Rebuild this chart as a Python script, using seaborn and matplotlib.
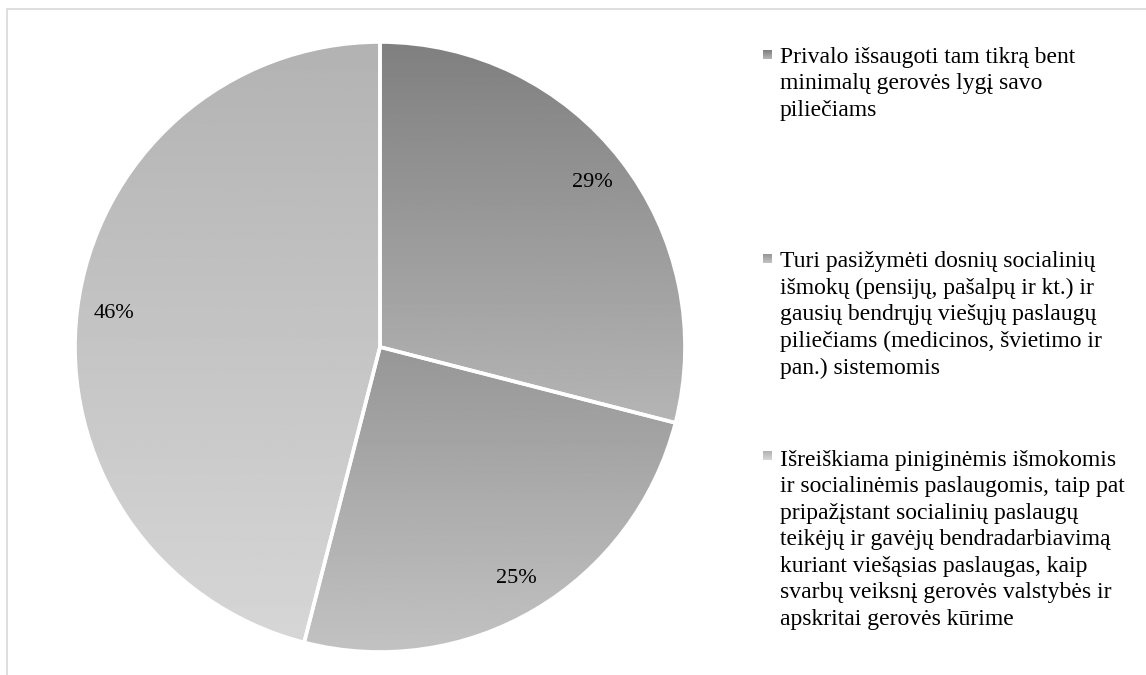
import numpy as np
import seaborn as sns
import matplotlib.pyplot as plt
from matplotlib.patches import Rectangle

# duomenys
labels = [
    "Privalo išsaugoti tam tikrą bent\nminimalų gerovės lygį savo\npiliečiams",
    "Turi pasižymėti dosnių socialinių\nišmokų (pensijų, pašalpų ir kt.) ir\ngausių bendrųjų viešųjų paslaugų\npiliečiams (medicinos, švietimo ir\npan.) sistemomis",
    "Išreiškiama piniginėmis išmokomis\nir socialinėmis paslaugomis, taip pat\npripažįstant socialinių paslaugų\nteikėjų ir gavėjų bendradarbiavimą\nkuriant viešąsias paslaugas, kaip\nsvarbų veiksnį gerovės valstybės ir\napskritai gerovės kūrime",
]
shares = [29, 25, 46]
# gradientai (viršus -> apačia), pilkos atspalviai 0..1
grad_top = [0.50, 0.59, 0.70]
grad_bottom = [0.71, 0.76, 0.84]

sns.set_theme(style="white")
plt.rcParams['font.family'] = ['Liberation Serif', 'DejaVu Serif']

W, H = 1146, 675
fig = plt.figure(figsize=(W / 100, H / 100), dpi=100)

# rėmelis
fig.patches.append(Rectangle((7 / W, -0.1), 1.2, 1.1 - 9 / H, transform=fig.transFigure,
                             fill=False, edgecolor="#d9d9d9", linewidth=1.2, zorder=0))

# pyrago ašys: centras (380, 347), spindulys 305 px
cx, cy, r = 380, 347, 305
ax = fig.add_axes([(cx - r) / W, (H - cy - r) / H, 2 * r / W, 2 * r / H])

wedges, _, autotexts = ax.pie(
    shares, startangle=90, counterclock=False,
    autopct=lambda p: f"{p:.0f}%", pctdistance=0.88,
    wedgeprops=dict(linewidth=2.6, edgecolor="white"),
    textprops=dict(fontsize=16, color="black"),
)

for w, t0, t1 in zip(wedges, grad_top, grad_bottom):
    bb = w.get_path().get_extents()
    grad = np.linspace(t0, t1, 256).reshape(-1, 1)
    im = ax.imshow(grad, cmap="gray", vmin=0, vmax=1, aspect="auto",
                   extent=(bb.x0, bb.x1, bb.y0, bb.y1), origin="upper", zorder=1)
    im.set_clip_path(w)
    w.set_facecolor("none")
    w.set_zorder(2)

for t in autotexts:
    t.set_zorder(3)

ax.set_xlim(-1, 1)
ax.set_ylim(-1, 1)
ax.set_aspect("equal")
ax.axis("off")

# legenda (pirmos eilutės bazinė linija, eilučių žingsnis 27 px)
baselines = [62, 266, 463]
pitch = 27
for lab, base, t0, t1 in zip(labels, baselines, grad_top, grad_bottom):
    n = lab.count("\n")
    fig.text(780 / W, 1 - (base + n * pitch) / H, lab, fontsize=17, va="baseline",
             ha="left", linespacing=1.345, color="black")
    m_ax = fig.add_axes([763 / W, 1 - (base - 3) / H, 9 / W, 9 / H])
    m_ax.imshow(np.linspace(t0, t1, 16).reshape(-1, 1), cmap="gray", vmin=0, vmax=1,
                aspect="auto")
    m_ax.axis("off")

fig.savefig("out.png", dpi=100)
